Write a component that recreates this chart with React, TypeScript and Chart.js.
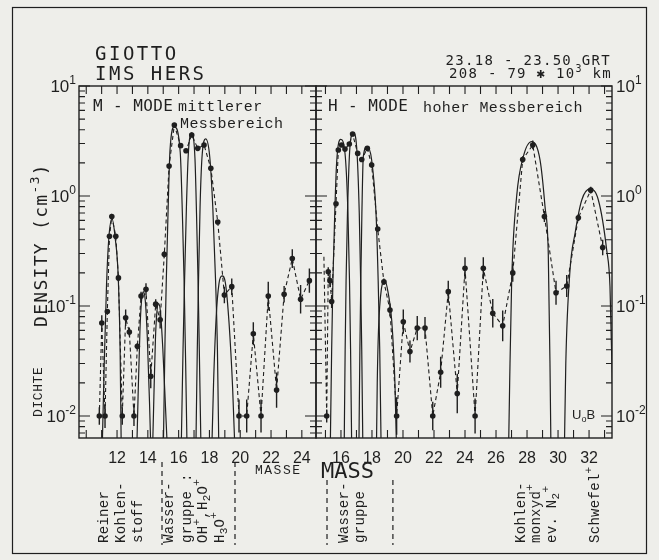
import { useEffect, useRef } from 'react';
import { Chart, registerables } from 'chart.js';

Chart.register(...registerables);

// ---------------- data ----------------
// M-MODE (left panel): measured densities (cm^-3) and error half-length (decades)
const mModeMass = [10.85, 11.01, 11.22, 11.37, 11.51, 11.66, 11.92, 12.09, 12.34, 12.56, 12.80, 13.10, 13.32, 13.56, 13.88, 14.19, 14.51, 14.80, 15.07, 15.38, 15.72, 16.13, 16.48, 16.85, 17.24, 17.65, 18.09, 18.54, 18.97, 19.45, 19.92, 20.42, 20.85, 21.35, 21.82, 22.36, 22.85, 23.38, 23.92, 24.49];
const mModeDensity = [0.010, 0.070, 0.010, 0.089, 0.43, 0.65, 0.43, 0.18, 0.010, 0.078, 0.058, 0.010, 0.043, 0.123, 0.142, 0.023, 0.104, 0.075, 0.295, 1.87, 4.42, 2.87, 2.58, 3.59, 2.71, 2.91, 1.79, 0.58, 0.126, 0.150, 0.010, 0.010, 0.056, 0.010, 0.123, 0.0172, 0.128, 0.27, 0.115, 0.170];
const mModeErrorDecades = [0.08, 0.07, 0.11, 0, 0, 0, 0, 0.03, 0.08, 0.075, 0.04, 0.09, 0.03, 0.04, 0.055, 0.11, 0.045, 0.08, 0.03, 0, 0, 0, 0, 0, 0, 0, 0, 0, 0.075, 0.075, 0.15, 0.15, 0.105, 0.15, 0.13, 0.16, 0.075, 0.085, 0.13, 0.11];

// M-MODE fitted peaks (solid curves): [mass, density]
const mFitCarbon = [[11.02, 0.004], [11.17, 0.03], [11.32, 0.16], [11.47, 0.42], [11.675, 0.62], [11.876, 0.42], [12.08, 0.18], [12.2, 0.04], [12.28, 0.004]];
const mFit14 = [[13.265, 0.004], [13.366, 0.015], [13.487, 0.06], [13.587, 0.11], [13.708, 0.135], [13.839, 0.11], [13.97, 0.05], [14.111, 0.013], [14.211, 0.004]];
const mFit15 = [[14.292, 0.004], [14.393, 0.015], [14.493, 0.05], [14.594, 0.09], [14.695, 0.105], [14.815, 0.09], [14.976, 0.04], [15.147, 0.012], [15.298, 0.004]];
const mFit16 = [[14.996, 0.004], [15.117, 0.05], [15.198, 0.17], [15.298, 0.6], [15.439, 2.6], [15.721, 4.25], [16.104, 2.5], [16.255, 0.6], [16.355, 0.17], [16.456, 0.03], [16.557, 0.004]];
const mFit17 = [[16.154, 0.004], [16.285, 0.04], [16.385, 0.17], [16.506, 0.8], [16.627, 2.4], [16.848, 3.75], [17.06, 2.2], [17.16, 0.7], [17.261, 0.17], [17.342, 0.04], [17.462, 0.004]];
const mFit18 = [[17.11, 0.004], [17.211, 0.04], [17.291, 0.17], [17.392, 0.8], [17.513, 2.2], [17.754, 3.3], [18.016, 2.3], [18.217, 0.8], [18.399, 0.17], [18.519, 0.04], [18.62, 0.004]];
const mFit19 = [[18.137, 0.004], [18.268, 0.02], [18.439, 0.08], [18.62, 0.16], [18.821, 0.188], [19.043, 0.16], [19.274, 0.07], [19.506, 0.018], [19.677, 0.004]];

// H-MODE (right panel)
const hModeMass = [14.90, 15.08, 15.18, 15.29, 15.40, 15.68, 15.83, 16.04, 16.26, 16.54, 16.75, 17.08, 17.34, 17.70, 17.98, 18.37, 18.77, 19.16, 19.59, 20.02, 20.45, 20.92, 21.42, 21.92, 22.43, 22.92, 23.50, 24.00, 24.65, 25.18, 25.79, 26.43, 27.08, 27.72, 28.37, 29.12, 29.87, 30.56, 31.31, 32.11, 32.88];
const hModeDensity = [0.28, 0.010, 0.205, 0.17, 0.11, 0.85, 2.62, 2.91, 2.67, 2.97, 3.66, 2.44, 2.15, 2.71, 1.91, 0.50, 0.166, 0.092, 0.010, 0.072, 0.0385, 0.063, 0.063, 0.010, 0.025, 0.135, 0.016, 0.22, 0.010, 0.22, 0.086, 0.066, 0.20, 2.15, 2.91, 0.65, 0.132, 0.152, 0.635, 1.13, 0.34];
const hModeErrorDecades = [0, 0.06, 0.04, 0.06, 0.06, 0, 0, 0, 0, 0, 0, 0, 0, 0, 0, 0, 0.03, 0.06, 0.17, 0.11, 0.10, 0.11, 0.10, 0.13, 0.14, 0.10, 0.18, 0.10, 0.16, 0.10, 0.13, 0.14, 0.08, 0.03, 0.04, 0.05, 0.11, 0.10, 0.03, 0.03, 0.07];
// the dashed trace starts without a marker at its first point
const hModeMarked = [false, true, true, true, true, true, true, true, true, true, true, true, true, true, true, true, true, true, true, true, true, true, true, true, true, true, true, true, true, true, true, true, true, true, true, true, true, true, true, true, true];

const hFit16 = [[15.3, 0.004], [15.4, 0.04], [15.48, 0.17], [15.6, 0.7], [15.72, 2.0], [15.98, 3.27], [16.26, 2.45], [16.45, 0.7], [16.55, 0.17], [16.62, 0.04], [16.7, 0.004]];
const hFit17 = [[16.2, 0.004], [16.27, 0.04], [16.33, 0.17], [16.42, 0.7], [16.58, 2.8], [16.8, 3.77], [17.01, 2.8], [17.18, 0.7], [17.27, 0.17], [17.34, 0.04], [17.42, 0.004]];
const hFit18 = [[17.15, 0.004], [17.22, 0.04], [17.28, 0.17], [17.35, 0.7], [17.44, 2.28], [17.7, 2.81], [17.98, 2.12], [18.26, 0.7], [18.4, 0.17], [18.5, 0.04], [18.6, 0.004]];
const hFit19 = [[18.28, 0.004], [18.34, 0.02], [18.42, 0.06], [18.6, 0.14], [18.84, 0.17], [19.05, 0.13], [19.27, 0.075], [19.48, 0.02], [19.6, 0.004]];
const hFit28 = [[26.8, 0.004], [26.88, 0.02], [27.01, 0.17], [27.33, 0.99], [27.76, 2.28], [28.3, 3.13], [28.84, 2.12], [29.16, 0.8], [29.37, 0.3], [29.48, 0.03], [29.55, 0.004]];
const hFit32 = [[30.4, 0.004], [30.5, 0.03], [30.77, 0.21], [31.1, 0.46], [31.53, 0.92], [32.06, 1.16], [32.6, 0.92], [33.14, 0.32], [33.35, 0.15], [33.5, 0.02], [33.6, 0.004]];

const mModeTickLabels = [12, 14, 16, 18, 20, 22, 24];
const hModeTickLabels = [16, 18, 20, 22, 24, 26, 28, 30, 32];
const decadeExponents = [1, 0, -1, -2];
const mModeGroupBounds = [14.92, 19.66];
const hModeGroupBounds = [15.1, 19.35];

// ---------------- style ----------------
const INK = '#1f1f1f';
const BG = '#eeeeea';
const PLOT = 'DejaVu Sans Mono';
const TYPE = 'Liberation Mono';
const SANS = 'Liberation Sans';
const W = 659;
const H = 560;

type Part = [string, number];

function drawRich(ctx: CanvasRenderingContext2D, parts: Part[], x: number, y: number, family: string, size: number, align: 'left' | 'right' | 'center', spacing = 0, rotate = false, subScale = 0.72) {
  ctx.save();
  ctx.translate(x, y);
  if (rotate) ctx.rotate(-Math.PI / 2);
  ctx.textAlign = 'left';
  ctx.textBaseline = 'alphabetic';
  ctx.fillStyle = INK;
  (ctx as any).letterSpacing = spacing + 'px';
  const fontFor = (lvl: number) => `${lvl === 0 ? size : Math.round(size * subScale)}px "${family}"`;
  let total = 0;
  const widths = parts.map(([t, lvl]) => {
    ctx.font = fontFor(lvl);
    const w = ctx.measureText(t).width;
    total += w;
    return w;
  });
  let cx = align === 'left' ? 0 : align === 'right' ? -total : -total / 2;
  parts.forEach(([t, lvl], i) => {
    ctx.font = fontFor(lvl);
    const dy = lvl > 0 ? -size * 0.45 : lvl < 0 ? size * 0.25 : 0;
    ctx.fillText(t, cx, dy);
    cx += widths[i];
  });
  ctx.restore();
}

function drawAnnotations(ctx: CanvasRenderingContext2D) {
  ctx.save();
  ctx.strokeStyle = INK;
  ctx.lineWidth = 1.2;
  ctx.strokeRect(12.5, 7.5, 634, 546);
  ctx.restore();

  drawRich(ctx, [['GIOTTO', 0]], 95, 60, PLOT, 19, 'left', 2.5);
  drawRich(ctx, [['IMS HERS', 0]], 95, 80, PLOT, 19, 'left', 2.5);
  drawRich(ctx, [['23.18 - 23.50 GRT', 0]], 611, 65, PLOT, 14, 'right', 1.3);
  drawRich(ctx, [['208 - 79 ✱ 10', 0], ['3', 1], [' km', 0]], 612, 78, PLOT, 14, 'right', 1.3);
  drawRich(ctx, [['M - MODE', 0]], 93, 111, PLOT, 16, 'left', 0.4);
  drawRich(ctx, [['mittlerer', 0]], 178, 111, TYPE, 15, 'left', 0.4);
  drawRich(ctx, [['Messbereich', 0]], 180, 128, TYPE, 15, 'left', 0.4);
  drawRich(ctx, [['H - MODE', 0]], 328, 111, PLOT, 16, 'left', 0.4);
  drawRich(ctx, [['hoher Messbereich', 0]], 423, 112, TYPE, 15, 'left', 0.4);
  drawRich(ctx, [['U', 0], ['o', -1], ['B', 0]], 572, 419, SANS, 13, 'left');

  drawRich(ctx, [['DENSITY (cm', 0], ['-3', 1], [')', 0]], 47, 327, PLOT, 18, 'left', 1.3, true);
  drawRich(ctx, [['DICHTE', 0]], 41.5, 417, TYPE, 13, 'left', 0.6, true);
  drawRich(ctx, [['MASSE', 0]], 255, 474, TYPE, 13, 'left', 1.5);
  drawRich(ctx, [['MASS', 0]], 321, 478, PLOT, 22, 'left', 0);

  const cols: [number, Part[]][] = [
    [103, [['Reiner', 0]]],
    [120, [['Kohlen-', 0]]],
    [137, [['stoff', 0]]],
    [168, [['Wasser-', 0]]],
    [186, [['gruppe :', 0]]],
    [202, [['OH', 0], ['+', 1], [',H', 0], ['2', -1], ['O', 0], ['+', 1]]],
    [219, [['H', 0], ['3', -1], ['O', 0], ['+', 1]]],
    [343, [['Wasser-', 0]]],
    [359, [['gruppe', 0]]],
    [520, [['Kohlen-', 0]]],
    [535, [['monxyd', 0], ['+', 1]]],
    [551, [['ev. N', 0], ['2', -1], ['+', 1]]],
    [594, [['Schwefel', 0], ['+', 1]]],
  ];
  cols.forEach(([cx, parts]) => drawRich(ctx, parts, cx + 4.5, 543, TYPE, 14, 'left', 0.3, true, 0.8));
}

function panelPlugin(side: 'left' | 'right') {
  const isL = side === 'left';
  const mass = isL ? mModeMass : hModeMass;
  const dens = isL ? mModeDensity : hModeDensity;
  const err = isL ? mModeErrorDecades : hModeErrorDecades;
  const bounds = isL ? mModeGroupBounds : hModeGroupBounds;
  return {
    id: 'panel-' + side,
    afterDatasetsDraw(chart: any) {
      const { ctx, chartArea: a, scales } = chart;
      const x = scales.x;
      const y = scales.y;
      ctx.save();
      ctx.beginPath();
      ctx.rect(a.left, a.top, a.right - a.left, a.bottom - a.top);
      ctx.clip();
      ctx.strokeStyle = INK;
      ctx.lineWidth = 1.4;
      ctx.beginPath();
      mass.forEach((m, i) => {
        const d = err[i];
        if (!d) return;
        const f = Math.pow(10, d);
        const px = x.getPixelForValue(m);
        ctx.moveTo(px, y.getPixelForValue(dens[i] * f));
        ctx.lineTo(px, y.getPixelForValue(dens[i] / f));
      });
      ctx.stroke();
      ctx.restore();
    },
    afterDraw(chart: any) {
      const { ctx, chartArea: a, scales } = chart;
      const x = scales.x;
      const y = scales.y;
      ctx.save();
      ctx.strokeStyle = INK;
      ctx.lineWidth = 1.4;
      ctx.strokeRect(a.left, a.top, a.right - a.left, a.bottom - a.top);
      ctx.lineWidth = 1.1;
      ctx.beginPath();
      for (let m = Math.ceil(x.min); m <= Math.floor(x.max); m++) {
        const px = x.getPixelForValue(m);
        ctx.moveTo(px, a.top);
        ctx.lineTo(px, a.top + 8);
        ctx.moveTo(px, a.bottom);
        ctx.lineTo(px, a.bottom - 8);
      }
      for (let k = -3; k <= 1; k++) {
        for (let j = 1; j <= 9; j++) {
          const v = j * Math.pow(10, k);
          if (v < y.min * 0.999 || v > y.max * 1.001) continue;
          const py = y.getPixelForValue(v);
          const len = j === 1 ? 11 : 6;
          ctx.moveTo(a.left, py);
          ctx.lineTo(a.left + len, py);
          ctx.moveTo(a.right, py);
          ctx.lineTo(a.right - len, py);
        }
      }
      ctx.stroke();
      // group separators below the axis
      ctx.setLineDash([5, 4]);
      ctx.lineWidth = 1.2;
      ctx.beginPath();
      bounds.forEach((b) => {
        const px = x.getPixelForValue(b);
        ctx.moveTo(px, isL ? 462 : 480);
        ctx.lineTo(px, 545);
      });
      ctx.stroke();
      ctx.restore();

      decadeExponents.forEach((e) => {
        const py = y.getPixelForValue(Math.pow(10, e));
        if (isL) drawRich(ctx, [['10', 0], [String(e), 1]], a.left - 3, py + 6, SANS, 17, 'right');
        else drawRich(ctx, [['10', 0], [String(e), 1]], a.right + 4, py + 6, SANS, 17, 'left');
      });

      if (isL) drawAnnotations(ctx);
    },
  };
}

function makeConfig(side: 'left' | 'right'): any {
  const isL = side === 'left';
  const mass = isL ? mModeMass : hModeMass;
  const dens = isL ? mModeDensity : hModeDensity;
  const fits = isL ? [mFitCarbon, mFit14, mFit15, mFit16, mFit17, mFit18, mFit19] : [hFit16, hFit17, hFit18, hFit19, hFit28, hFit32];
  const labels = isL ? mModeTickLabels : hModeTickLabels;
  const datasets: any[] = [
    {
      data: mass.map((m, i) => ({ x: m, y: dens[i] })),
      showLine: true,
      borderColor: INK,
      borderWidth: 1.1,
      borderDash: [4, 3],
      pointRadius: (c: any) => (isL || hModeMarked[c.dataIndex] ? 2.8 : 0),
      pointBackgroundColor: INK,
      pointBorderColor: INK,
      pointBorderWidth: 0,
      tension: 0,
    },
    ...fits.map((f) => ({
      data: f.map(([m, v]) => ({ x: m, y: v })),
      showLine: true,
      borderColor: INK,
      borderWidth: 1.2,
      pointRadius: 0,
      cubicInterpolationMode: 'monotone',
    })),
  ];
  return {
    type: 'scatter',
    data: { datasets },
    options: {
      responsive: false,
      animation: false,
      devicePixelRatio: 1,
      events: [],
      layout: { padding: { left: isL ? 79 : 316, right: isL ? W - 316 : W - 612, top: 86, bottom: 0 } },
      plugins: { legend: { display: false }, tooltip: { enabled: false } },
      scales: {
        x: {
          type: 'linear',
          min: isL ? 9.53 : 14.39,
          max: isL ? 24.92 : 33.48,
          grid: { display: false },
          border: { display: false },
          afterBuildTicks: (s: any) => {
            s.ticks = labels.map((v) => ({ value: v }));
          },
          afterFit: (s: any) => {
            s.height = H - 438;
          },
          ticks: {
            font: { family: SANS, size: 16 },
            color: INK,
            padding: 3,
            autoSkip: false,
            maxRotation: 0,
            callback: (v: any) => String(v),
          },
        },
        y: { type: 'logarithmic', min: Math.pow(10, -2.2), max: 10, display: false },
      },
    },
    plugins: [panelPlugin(side)],
  };
}

export default function App() {
  const leftRef = useRef<HTMLCanvasElement>(null);
  const rightRef = useRef<HTMLCanvasElement>(null);
  useEffect(() => {
    document.body.style.margin = '0';
    const c1 = new Chart(leftRef.current as HTMLCanvasElement, makeConfig('left'));
    const c2 = new Chart(rightRef.current as HTMLCanvasElement, makeConfig('right'));
    return () => {
      c1.destroy();
      c2.destroy();
    };
  }, []);
  return (
    <div style={{ position: 'relative', width: W, height: H, background: BG, overflow: 'hidden' }}>
      <canvas ref={leftRef} width={W} height={H} style={{ position: 'absolute', left: 0, top: 0 }} />
      <canvas ref={rightRef} width={W} height={H} style={{ position: 'absolute', left: 0, top: 0 }} />
    </div>
  );
}
